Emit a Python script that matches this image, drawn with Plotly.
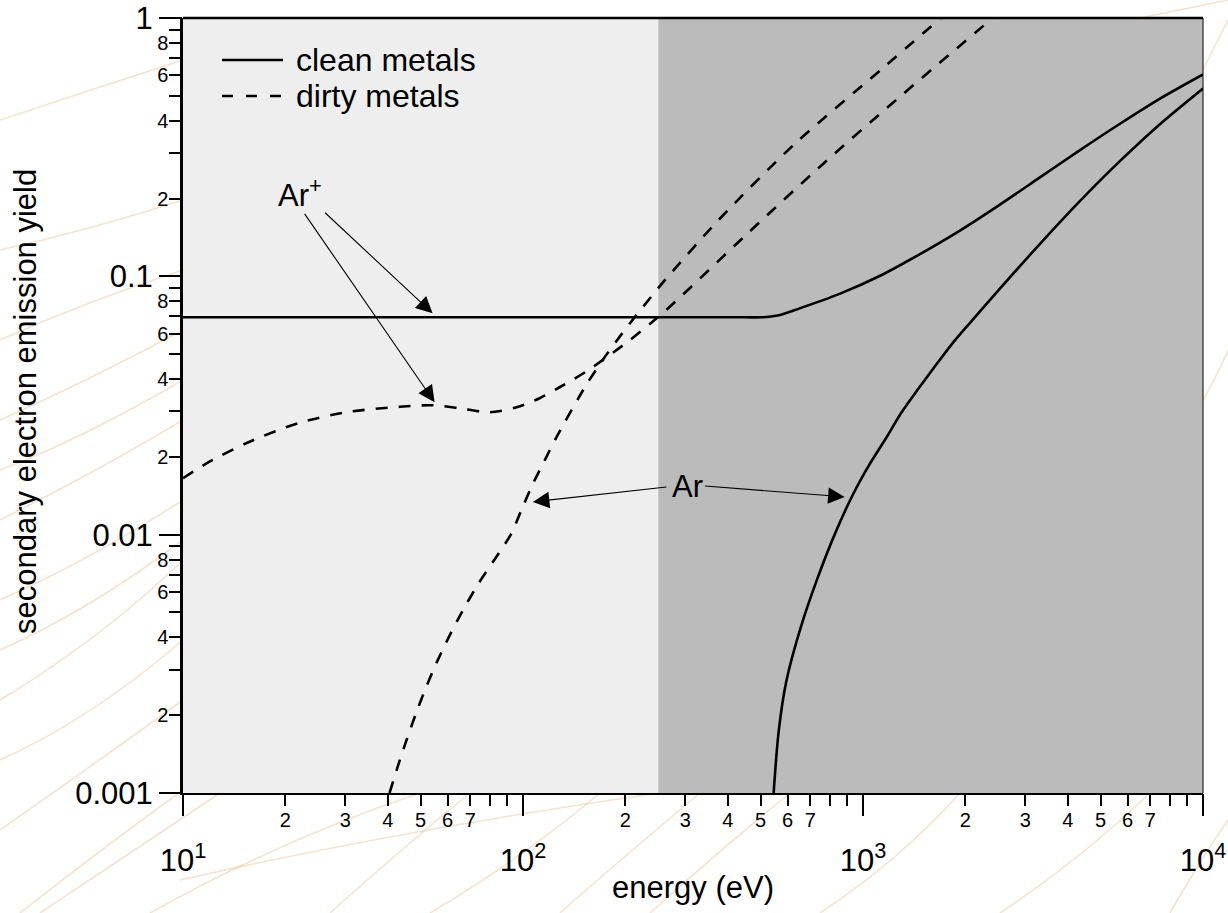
import numpy as np
import plotly.graph_objects as go

# ---------------- data ----------------
# clean metals, Ar+ (solid)
clean_ion_energy = [10, 100, 300, 450, 504, 560, 651, 853, 1119, 1458, 1923, 2522, 3306, 4336,
                    5684, 7455, 10000]
clean_ion_yield = [0.0694, 0.0694, 0.0694, 0.0694, 0.0694, 0.0705, 0.07517, 0.08551, 0.1003,
                   0.1212, 0.1501, 0.1892, 0.2410, 0.3073, 0.3887, 0.4864, 0.6045]

# clean metals, Ar (solid)
clean_atom_energy = [546, 565, 596, 655, 735, 831, 932, 1046, 1173, 1299, 1458, 1636, 1823,
                     2058, 2357, 3306, 4336, 5684, 7455, 10000]
clean_atom_yield = [0.001, 0.001737, 0.002736, 0.004347, 0.006787, 0.01023, 0.01421, 0.01874,
                    0.02383, 0.02978, 0.03687, 0.04525, 0.05456, 0.06580, 0.08075, 0.1330,
                    0.1950, 0.2785, 0.3873, 0.5336]

# dirty metals, Ar+ (dashed)
dirty_ion_energy = [10, 11.97, 15.70, 22.02, 30.90, 43.36, 54.21, 65.09, 79.77, 95.76, 111.9,
                    128.1, 153.8, 205.8, 247.1, 277.3, 457.7, 765.9, 1247, 2406]
dirty_ion_yield = [0.01654, 0.01916, 0.02290, 0.02712, 0.02991, 0.03126, 0.03170, 0.03087,
                   0.02978, 0.03112, 0.03373, 0.03721, 0.04290, 0.05653, 0.06880, 0.07864,
                   0.1466, 0.2736, 0.4797, 1.0]

# dirty metals, Ar (dashed)
dirty_atom_energy = [40.5, 43.06, 45.46, 48.23, 51.46, 55.59, 60.71, 66.56, 73.68, 82.78, 92.13,
                     98.86, 106.5, 116.0, 126.4, 153.8, 176.2, 192.3, 215.9, 262.6, 378.5,
                     633.8, 1119, 1694]
dirty_atom_yield = [0.001, 0.001296, 0.001605, 0.002001, 0.002501, 0.003175, 0.004048, 0.005096,
                    0.006412, 0.008068, 0.01003, 0.01242, 0.01555, 0.01947, 0.02428, 0.03818,
                    0.04988, 0.05830, 0.07098, 0.09727, 0.1667, 0.3281, 0.6242, 1.0]

# shaded energy regions (eV) and axis extents
energy_min, energy_split, energy_max = 10, 250, 10000
yield_min, yield_max = 0.001, 1

# tick values / labels
x_label_vals = [m * 10 ** d for d in (1, 2, 3) for m in range(2, 8)]
x_label_text = [str(m) for d in (1, 2, 3) for m in range(2, 8)]
x_plain_vals = [m * 10 ** d for d in (1, 2, 3) for m in (8, 9)]
x_major_vals = [10, 100, 1000, 10000]
x_major_text = ["10<sup>1</sup>", "10<sup>2</sup>", "10<sup>3</sup>", "10<sup>4</sup>"]
y_label_vals = [m * 10.0 ** d for d in (-3, -2, -1) for m in (2, 4, 6, 8)]
y_label_text = [str(m) for d in (-3, -2, -1) for m in (2, 4, 6, 8)]
y_plain_vals = [m * 10.0 ** d for d in (-3, -2, -1) for m in (3, 5, 7, 9)]
y_major_vals = [0.001, 0.01, 0.1, 1]
y_major_text = ["0.001", "0.01", "0.1", "1"]

legend_labels = ["clean metals", "dirty metals"]

# ---------------- figure ----------------
FONT = "Liberation Sans, Arial, sans-serif"
DASH = "12px,11px"
W, H = 1228, 913
ML, MR, MT, MB = 183, 25, 18, 120
PW, PH = W - ML - MR, H - MT - MB


def px2paper(px, py):
    return (px - ML) / PW, (H - MB - py) / PH


fig = go.Figure()

# shaded energy regions as filled traces (below the curves)
for e0, e1, col in [(energy_min, energy_split, "#eeeeee"), (energy_split, energy_max, "#bbbbbb")]:
    fig.add_trace(go.Scatter(
        x=[e0, e1, e1, e0, e0], y=[yield_min, yield_min, yield_max, yield_max, yield_min],
        mode="lines", fill="toself", fillcolor=col, line=dict(width=0, color=col),
        showlegend=False, hoverinfo="skip",
    ))

for xs, ys, dash, name in [
    (clean_ion_energy, clean_ion_yield, "solid", "clean metals, Ar+"),
    (clean_atom_energy, clean_atom_yield, "solid", "clean metals, Ar"),
    (dirty_ion_energy, dirty_ion_yield, DASH, "dirty metals, Ar+"),
    (dirty_atom_energy, dirty_atom_yield, DASH, "dirty metals, Ar"),
]:
    fig.add_trace(go.Scatter(
        x=xs, y=ys, mode="lines", name=name, showlegend=False,
        line=dict(color="black", width=2.6, dash=dash, shape="spline", smoothing=0.8),
        hoverinfo="skip",
    ))

# invisible trace spanning the axis extents so the overlay (major-tick) axes are drawn
fig.add_trace(go.Scatter(x=[energy_min, energy_max], y=[yield_min, yield_max], xaxis="x2",
                         yaxis="y2", mode="markers", marker=dict(opacity=0, size=1),
                         showlegend=False, hoverinfo="skip"))

# faint decorative streaks of the page background
streaks = [
    ((0, 250), (90, 230), (183, 200)), ((0, 420), (90, 380), (183, 330)),
    ((0, 520), (100, 470), (183, 420)), ((0, 600), (90, 560), (183, 500)),
    ((0, 700), (100, 640), (183, 560)), ((0, 830), (100, 760), (183, 700)),
    ((20, 913), (100, 850), (183, 790)), ((150, 913), (280, 840), (420, 793)),
    ((330, 913), (400, 850), (470, 793)), ((180, 880), (400, 830), (660, 793)),
    ((560, 913), (620, 860), (700, 793)), ((650, 913), (720, 850), (790, 793)),
    ((1000, 913), (1080, 860), (1150, 793)), ((1170, 913), (1200, 860), (1228, 820)),
    ((1203, 400), (1215, 380), (1228, 350)), ((1203, 70), (1215, 45), (1228, 20)),
    ((1140, 18), (1190, 8), (1228, 0)), ((0, 120), (90, 90), (183, 60)),
    ((0, 340), (90, 300), (183, 270)), ((0, 470), (80, 440), (183, 380)),
    ((0, 650), (90, 610), (183, 540)), ((0, 760), (90, 720), (183, 640)),
    ((40, 913), (120, 860), (220, 793)), ((430, 913), (520, 860), (600, 793)),
    ((820, 913), (900, 860), (960, 793)),
]
for p0, pc, p1 in streaks:
    a, b, c = px2paper(*p0), px2paper(*pc), px2paper(*p1)
    fig.add_shape(type="path", xref="paper", yref="paper", layer="below",
                  path=f"M {a[0]},{a[1]} Q {b[0]},{b[1]} {c[0]},{c[1]}",
                  line=dict(color="rgba(225,170,110,0.33)", width=1.6))

# frame top / right
fig.add_shape(type="line", xref="paper", yref="paper", x0=0, x1=1, y0=1, y1=1,
              line=dict(color="black", width=2.5))
fig.add_shape(type="line", xref="paper", yref="paper", x0=1, x1=1, y0=0, y1=1,
              line=dict(color="black", width=1))

# custom legend
for i, (lab, dash) in enumerate(zip(legend_labels, ["solid", "11px,13px"])):
    ly = 60 + i * 36
    (x0p, yp), (x1p, _), (xtp, _) = px2paper(222, ly), px2paper(283, ly), px2paper(294, ly)
    fig.add_shape(type="line", xref="paper", yref="paper", x0=x0p, x1=x1p, y0=yp, y1=yp,
                  line=dict(color="black", width=2.6, dash=dash))
    fig.add_annotation(x=xtp, y=yp, xref="paper", yref="paper", text=lab, showarrow=False,
                       xanchor="left", yanchor="middle",
                       font=dict(size=32, family=FONT, color="black"))

# labels with arrows (positions in log10 axis units)
fig.add_annotation(x=1.3429, y=-0.6789, xref="x", yref="y", text="Ar<sup>+</sup>", showarrow=False,
                   font=dict(size=31, family=FONT, color="black"))
fig.add_annotation(x=2.4841, y=-1.8124, xref="x", yref="y", text="Ar", showarrow=False,
                   font=dict(size=31, family=FONT, color="black"))
arrows = [
    (1.4135, -0.7485, 1.7341, -1.1431),
    (1.3547, -0.7524, 1.7400, -1.4874),
    (2.4262, -1.8151, 2.0291, -1.8731),
    (2.5312, -1.8112, 2.9459, -1.8538),
]
for ax_, ay_, x_, y_ in arrows:
    fig.add_annotation(x=x_, y=y_, ax=ax_, ay=ay_, xref="x", yref="y", axref="x", ayref="y",
                       text="", showarrow=True, arrowhead=2, arrowsize=3.0, arrowwidth=1.1,
                       arrowcolor="black", standoff=0, startstandoff=0)

# axis titles
tx, ty = px2paper(693, 887)
fig.add_annotation(x=tx, y=ty, xref="paper", yref="paper", text="energy (eV)",
                   showarrow=False, xanchor="center", yanchor="middle",
                   font=dict(size=31, family=FONT, color="black"))
tx, ty = px2paper(25, 402)
fig.add_annotation(x=tx, y=ty, xref="paper", yref="paper",
                   text="secondary electron emission yield", textangle=-90,
                   showarrow=False, xanchor="center", yanchor="middle",
                   font=dict(size=31, family=FONT, color="black"))

common = dict(type="log", showgrid=False, zeroline=False, ticks="outside", tickwidth=2,
              tickcolor="black", automargin=False)
minor_style = dict(ticks="outside", ticklen=11, tickwidth=2, tickcolor="black", showgrid=False)
fig.update_layout(
    width=W, height=H,
    margin=dict(l=ML, r=MR, t=MT, b=MB, autoexpand=False),
    paper_bgcolor="white", plot_bgcolor="rgba(0,0,0,0)",
    font=dict(family=FONT, color="black"),
    xaxis=dict(**common, range=[1, 4], tickvals=x_label_vals, ticktext=x_label_text,
               minor=dict(**minor_style, tickvals=x_plain_vals),
               ticklen=11, tickfont=dict(size=20, family=FONT, color="black"),
               showline=True, linewidth=1.5, linecolor="black", ticklabelstandoff=-3),
    xaxis2=dict(**common, range=[1, 4], overlaying="x", anchor="y", side="bottom",
                tickvals=x_major_vals, ticktext=x_major_text, ticklen=22,
                tickfont=dict(size=31, family=FONT, color="black"), showline=False,
                ticklabelstandoff=18),
    yaxis=dict(**common, range=[-3, 0], tickvals=y_label_vals, ticktext=y_label_text,
               minor=dict(**minor_style, tickvals=y_plain_vals),
               ticklen=11, tickfont=dict(size=20, family=FONT, color="black"),
               showline=True, linewidth=2.5, linecolor="black", ticklabelstandoff=-3),
    yaxis2=dict(**common, range=[-3, 0], overlaying="y", anchor="x", side="left",
                tickvals=y_major_vals, ticktext=y_major_text, ticklen=23,
                tickfont=dict(size=31, family=FONT, color="black"), showline=False,
                ticklabelstandoff=0),
)

fig.write_html("out.html")
